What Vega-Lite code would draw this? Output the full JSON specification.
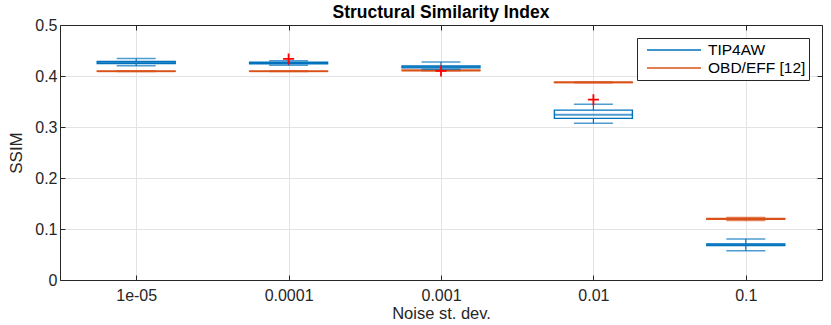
{
  "$schema": "https://vega.github.io/schema/vega-lite/v6.json",
  "width": 762,
  "height": 255,
  "autosize": "none",
  "padding": {"left": 60, "top": 25, "right": 9, "bottom": 45},
  "title": {"text": "Structural Similarity Index", "fontSize": 17.5, "fontWeight": "bold", "font": "Liberation Sans", "color": "#000000", "offset": -4},
  "datasets": {
    "boxes": [
      {"noise": "1e-05", "method": "TIP4AW", "min": 0.4200, "q1": 0.4245, "median": 0.4265, "q3": 0.4285, "max": 0.4345},
      {"noise": "1e-05", "method": "OBD/EFF [12]", "min": 0.4086, "q1": 0.4090, "median": 0.4092, "q3": 0.4094, "max": 0.4098},
      {"noise": "0.0001", "method": "TIP4AW", "min": 0.4210, "q1": 0.4240, "median": 0.4255, "q3": 0.4270, "max": 0.4300},
      {"noise": "0.0001", "method": "OBD/EFF [12]", "min": 0.4088, "q1": 0.4092, "median": 0.4094, "q3": 0.4096, "max": 0.4100},
      {"noise": "0.001", "method": "TIP4AW", "min": 0.4130, "q1": 0.4160, "median": 0.4175, "q3": 0.4195, "max": 0.4275},
      {"noise": "0.001", "method": "OBD/EFF [12]", "min": 0.4104, "q1": 0.4108, "median": 0.4110, "q3": 0.4112, "max": 0.4116},
      {"noise": "0.01", "method": "TIP4AW", "min": 0.3072, "q1": 0.3170, "median": 0.3240, "q3": 0.3330, "max": 0.3445},
      {"noise": "0.01", "method": "OBD/EFF [12]", "min": 0.3868, "q1": 0.3872, "median": 0.3876, "q3": 0.3880, "max": 0.3884},
      {"noise": "0.1", "method": "TIP4AW", "min": 0.0575, "q1": 0.0675, "median": 0.0690, "q3": 0.0705, "max": 0.0804},
      {"noise": "0.1", "method": "OBD/EFF [12]", "min": 0.1165, "q1": 0.1190, "median": 0.1198, "q3": 0.1205, "max": 0.1225}
    ],
    "outliers": [
      {"noise": "0.0001", "method": "TIP4AW", "value": 0.4335},
      {"noise": "0.001", "method": "TIP4AW", "value": 0.4100},
      {"noise": "0.01", "method": "TIP4AW", "value": 0.3535}
    ]
  },
  "resolve": {"axis": {"x": "independent", "y": "independent"}},
  "layer": [
    {
      "data": {"name": "boxes"},
      "mark": {"type": "bar", "filled": false, "size": 78, "strokeWidth": 1.4},
      "encoding": {
        "x": {"field": "noise", "type": "nominal",
              "scale": {"type": "point", "padding": 0.5, "domain": ["1e-05", "0.0001", "0.001", "0.01", "0.1"]},
              "axis": {"orient": "bottom", "title": "Noise st. dev.", "labelAngle": 0, "grid": true, "labelPadding": 12, "titlePadding": 2, "titleFontSize": 16.5}},
        "y": {"field": "q1", "type": "quantitative",
              "scale": {"domain": [0, 0.5], "nice": false},
              "axis": {"orient": "left", "title": "SSIM", "values": [0, 0.1, 0.2, 0.3, 0.4, 0.5], "format": "~g", "grid": true, "labelPadding": 8, "titlePadding": 9}},
        "y2": {"field": "q3"},
        "color": {"field": "method", "type": "nominal",
                  "scale": {"domain": ["TIP4AW", "OBD/EFF [12]"], "range": ["#0072BD", "#D95319"]},
                  "legend": {"title": null, "orient": "none", "legendX": 577, "legendY": 13, "symbolType": "M-3.375,0L3.375,0", "symbolSize": 256, "symbolStrokeWidth": 1.5, "symbolOffset": 25, "labelFontSize": 15.5, "labelFont": "Liberation Sans", "labelColor": "#000000", "labelOffset": 25, "strokeColor": "#262626", "fillColor": "#ffffff", "padding": 3, "rowPadding": 0, "labelLimit": 200}}
      }
    },
    {
      "data": {"name": "boxes"},
      "mark": {"type": "tick", "size": 78, "thickness": 2},
      "encoding": {
        "x": {"field": "noise", "type": "nominal", "axis": {"orient": "top", "labels": false, "title": null, "grid": false}},
        "y": {"field": "median", "type": "quantitative", "axis": {"orient": "right", "labels": false, "title": null, "grid": false, "values": [0, 0.1, 0.2, 0.3, 0.4, 0.5]}},
        "color": {"field": "method", "type": "nominal"}
      }
    },
    {
      "data": {"name": "boxes"},
      "mark": {"type": "rule", "strokeWidth": 1.2},
      "encoding": {
        "x": {"field": "noise", "type": "nominal", "axis": null},
        "y": {"field": "q3", "type": "quantitative", "axis": null},
        "y2": {"field": "max"},
        "color": {"field": "method", "type": "nominal"}
      }
    },
    {
      "data": {"name": "boxes"},
      "mark": {"type": "rule", "strokeWidth": 1.2},
      "encoding": {
        "x": {"field": "noise", "type": "nominal", "axis": null},
        "y": {"field": "min", "type": "quantitative", "axis": null},
        "y2": {"field": "q1"},
        "color": {"field": "method", "type": "nominal"}
      }
    },
    {
      "data": {"name": "boxes"},
      "mark": {"type": "tick", "size": 39, "thickness": 1.5},
      "encoding": {
        "x": {"field": "noise", "type": "nominal", "axis": null},
        "y": {"field": "max", "type": "quantitative", "axis": null},
        "color": {"field": "method", "type": "nominal"}
      }
    },
    {
      "data": {"name": "boxes"},
      "mark": {"type": "tick", "size": 39, "thickness": 1.5},
      "encoding": {
        "x": {"field": "noise", "type": "nominal", "axis": null},
        "y": {"field": "min", "type": "quantitative", "axis": null},
        "color": {"field": "method", "type": "nominal"}
      }
    },
    {
      "data": {"name": "outliers"},
      "mark": {"type": "point", "shape": "M-1,0L1,0M0,-1L0,1", "filled": false, "size": 121, "strokeWidth": 1.8, "color": "#FF0000", "opacity": 1},
      "encoding": {
        "x": {"field": "noise", "type": "nominal", "axis": null},
        "y": {"field": "value", "type": "quantitative", "axis": null}
      }
    }
  ],
  "config": {
    "font": "Liberation Sans",
    "view": {"stroke": null},
    "axis": {
      "labelFont": "Liberation Sans",
      "labelFontSize": 16,
      "labelColor": "#262626",
      "titleFont": "Liberation Sans",
      "titleFontSize": 17,
      "titleFontWeight": "normal",
      "titleColor": "#262626",
      "domainColor": "#262626",
      "domainWidth": 1,
      "tickColor": "#262626",
      "tickSize": -5,
      "gridColor": "#e3e3e3",
      "gridWidth": 1
    }
  }
}
